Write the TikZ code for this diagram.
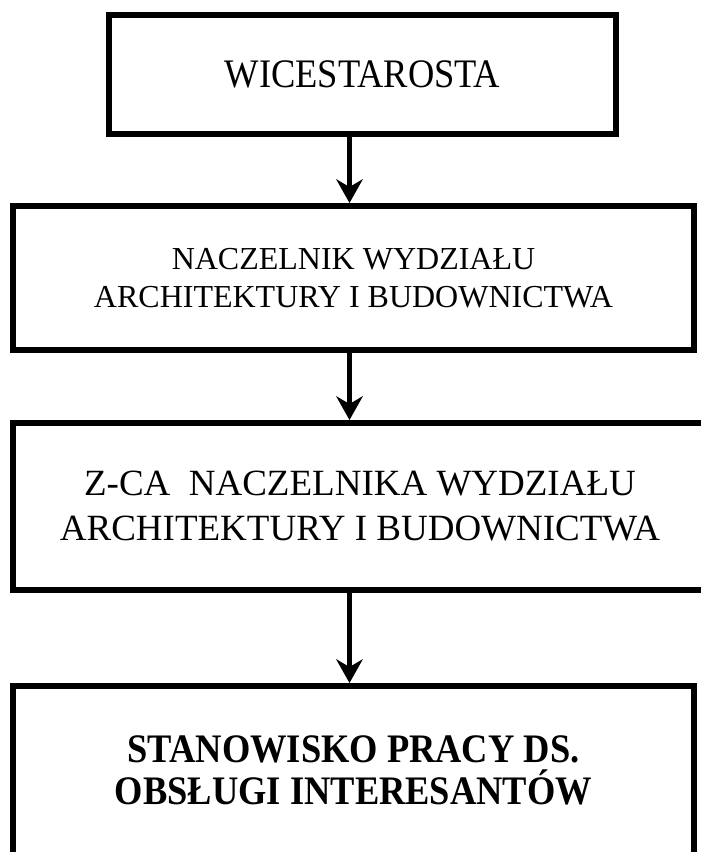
\documentclass[tikz,border=0pt]{standalone}
\usepackage{fontspec}
\setmainfont{Liberation Serif}
\newfontfamily\narrowserif[FakeStretch=0.9]{Liberation Serif}
\usetikzlibrary{arrows.meta}
\begin{document}
\begin{tikzpicture}[x=1pt, y=-1pt,
        box/.style={draw, line width=6pt, align=center, inner sep=0pt},
        link/.style={-{Stealth[length=24pt, width=27pt, inset=8pt, line width=0pt]}, line width=5.5pt}]
        \useasboundingbox (0,0) rectangle (701,852);
        \clip (0,0) rectangle (701,852);
        \coordinate (axis) at (349.5,0);

        \node [box, minimum width=507pt, minimum height=119pt, font=\narrowserif\fontsize{40.5}{46}\selectfont] (wice) at (362.5,74.5) {WICESTAROSTA};
        \node [box, minimum width=681pt, minimum height=144pt, font=\fontsize{32}{38}\selectfont] (nacz) at (353.5,278) {NACZELNIK WYDZIAŁU\\ARCHITEKTURY I BUDOWNICTWA};
        \node [box, minimum width=694pt, minimum height=167pt, font=\fontsize{37}{45}\selectfont] (zca) at (360,506.5) {Z-CA\ \ NACZELNIKA WYDZIAŁU\\ARCHITEKTURY I BUDOWNICTWA};
        \node [box, minimum width=681pt, minimum height=169pt, font=\narrowserif\fontsize{40.5}{42}\selectfont\bfseries] (stan) at (353.5,770.5) {STANOWISKO PRACY DS.\\OBSŁUGI INTERESANTÓW};

        \draw[link] (wice.south -| axis) -- (nacz.north -| axis);
        \draw[link] (nacz.south -| axis) -- (zca.north -| axis);
        \draw[link] (zca.south -| axis) -- (stan.north -| axis);
    \end{tikzpicture}
\end{document}
